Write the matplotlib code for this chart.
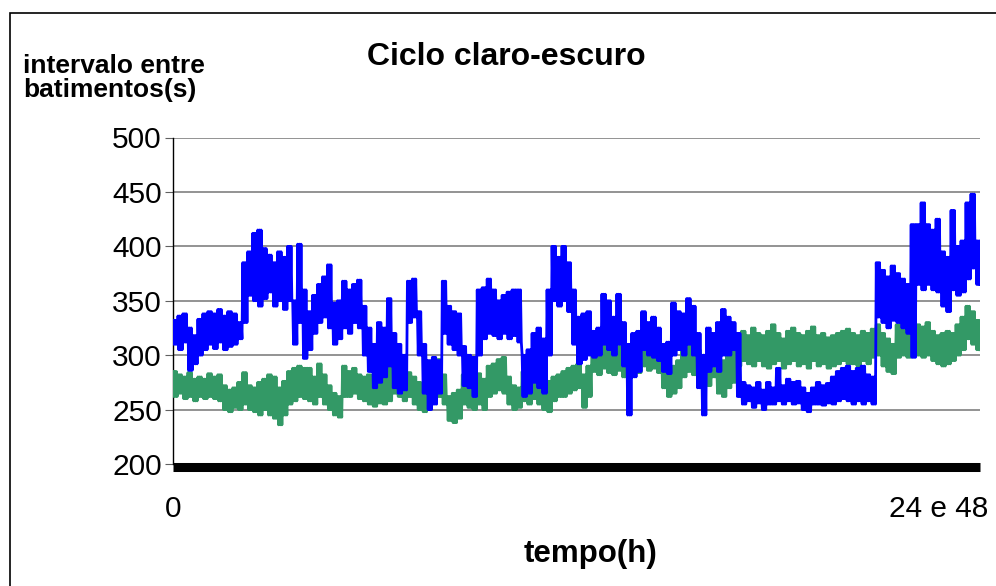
import numpy as np
import matplotlib
matplotlib.use('Agg')
import matplotlib.pyplot as plt
from matplotlib.patches import Rectangle

plt.rcParams['font.family'] = ['Liberation Sans', 'DejaVu Sans']

# envelopes (min / max por intervalo de ~5 px)
azul_min = [310, 305, 312, 286, 292, 300, 305, 310, 306, 312, 305, 308, 310, 315, 330,
            355, 350, 345, 352, 358, 345, 350, 342, 350, 310, 330, 297, 305, 320, 330,
            335, 325, 310, 315, 325, 320, 330, 325, 300, 285, 270, 275, 280, 290, 270,
            265, 268, 330, 335, 300, 265, 250, 255, 265, 320, 310, 305, 300, 272, 270,
            262, 300, 315, 320, 318, 315, 320, 315, 318, 312, 262, 265, 275, 270, 265,
            300, 350, 345, 350, 340, 310, 292, 296, 300, 298, 300, 310, 305, 300, 310,
            290, 245, 280, 285, 305, 300, 298, 295, 285, 283, 300, 305, 300, 310, 300,
            270, 245, 285, 290, 285, 300, 300, 305, 262,
            255, 258, 252, 256, 250, 255, 255, 258, 255, 258, 255, 256, 250, 248, 255,
            255, 254, 256, 255, 258, 260, 258,
            255, 258, 255, 258, 255, 335, 330, 325, 332, 330, 325, 320, 298, 365, 360,
            365, 360, 358, 345, 340, 360, 355, 358, 370, 380, 365]
azul_max = [332, 336, 338, 325, 318, 333, 338, 340, 338, 342, 336, 340, 338, 330, 385,
            395, 412, 415, 398, 392, 385, 395, 390, 400, 350, 402, 360, 340, 355, 365,
            372, 383, 348, 350, 368, 360, 365, 369, 345, 325, 310, 330, 325, 352, 320,
            310, 300, 368, 370, 340, 310, 295, 298, 295, 368, 345, 340, 338, 308, 300,
            298, 360, 362, 370, 360, 350, 355, 358, 360, 360, 300, 305, 320, 325, 315,
            360, 400, 390, 400, 385, 360, 335, 338, 340, 322, 325, 356, 350, 335, 356,
            330, 310, 320, 322, 340, 330, 335, 325, 310, 312, 348, 340, 338, 352, 345,
            320, 300, 325, 320, 330, 342, 335, 330, 320,
            275, 272, 270, 275, 268, 275, 270, 288, 272, 278, 275, 276, 270, 265, 270,
            275, 272, 274, 280, 285, 288, 290,
            285, 288, 290, 282, 280, 385, 378, 372, 382, 375, 370, 365, 420, 420, 440,
            420, 415, 425, 395, 390, 433, 400, 405, 440, 448, 405]

verde_min = [262, 265, 260, 262, 258, 262, 260, 262, 260, 258,
             250, 248, 252, 250, 255, 250, 248,
             245, 250, 245, 242, 236, 245,
             255, 258, 262, 260,
             258, 255, 262,
             255, 250, 245, 243,
             262, 262, 265, 260,
             258, 255, 253, 256, 255, 258,
             265, 262,
             258, 262, 255,
             250, 248,
             255, 258, 262, 255,
             240, 238, 242,
             255, 252, 250, 255, 250,
             262, 265, 268, 265,
             255, 250, 252,
             258, 255, 260, 255, 250, 248,
             258, 262, 262, 265, 268, 270,
             252, 262,
             285, 282, 288, 284, 282, 286, 280,
             285, 288, 284, 290, 286, 288, 284,
             270, 262, 265, 270,
             280, 285, 282, 278, 275, 272, 280,
             265, 262, 270, 275,
             290, 295, 292, 290, 295, 290, 288, 292, 295, 288, 292, 295, 290, 292, 288,
             295, 290, 292, 288, 290, 292, 295, 292,
             292, 290, 295, 292, 298,
             300,
             290, 285, 283,
             298, 300, 298, 302, 300, 298, 300,
             295, 292, 290, 292, 295,
             300, 305, 315,
             310, 305]
verde_max = [285, 282, 280, 284, 278, 280, 278, 283, 280, 282,
             272, 268, 270, 275, 284, 272, 270,
             275, 278, 282, 280, 270, 276,
             285, 288, 290, 288,
             288, 280, 292,
             282, 272, 265, 262,
             290, 285, 288, 282,
             280, 282, 278, 284, 280, 288,
             302, 295,
             282, 284, 280,
             275, 270,
             285, 290, 296, 282,
             262, 265, 268,
             282, 280, 278, 283, 278,
             290, 292, 296, 298,
             280, 272, 270,
             285, 282, 286, 280, 278, 276,
             280, 282, 285, 288, 290, 292,
             282, 290,
             308, 310, 312, 306, 310, 308, 305,
             305, 312, 310, 314, 310, 312, 308,
             296, 292, 290, 295,
             308, 312, 314, 305, 300, 305, 310,
             300, 295, 305, 308,
             320, 322, 318, 325, 320, 318, 322, 328, 320, 315, 322, 325, 320, 318, 322,
             326, 318, 320, 316, 318, 320, 322, 324,
             320, 318, 322, 320, 324,
             328,
             320, 315, 310,
             328, 332, 325, 330, 328, 326, 330,
             322, 318, 320, 322, 320,
             328, 335, 345,
             340, 332]

nivel_preto = 197
y_ticks = [200, 250, 300, 350, 400, 450, 500]
x_rotulos = ['0', '24 e 48']


def zigue_zague(lo, hi, passos=3):
    # alterna max e min dentro de cada intervalo para desenhar a faixa de ruido
    n = len(lo)
    k = 2 * passos
    xs = (np.arange(n)[:, None] + np.arange(k)[None, :] / k).ravel()
    ys = np.empty((n, k))
    ys[:, 0::2] = np.asarray(hi)[:, None]
    ys[:, 1::2] = np.asarray(lo)[:, None]
    return xs, ys.ravel()


fig = plt.figure(figsize=(9.96, 5.86), dpi=100)
ax = fig.add_axes([173 / 996, 1 - 464 / 586, 807 / 996, 326.5 / 586])

n = len(azul_min)
xv, yv = zigue_zague(verde_min, verde_max)
xa, ya = zigue_zague(azul_min, azul_max)
ax.plot(xv, yv, color='#339966', lw=2.0, zorder=3)
ax.plot(xa, ya, color='#0000ff', lw=2.0, zorder=4)
ax.plot([0, n - 0.2], [nivel_preto, nivel_preto], color='black', lw=6.5,
        solid_capstyle='butt', zorder=5, clip_on=False)

ax.set_xlim(0, n - 0.2)
ax.set_ylim(200, 500)
ax.set_yticks(y_ticks)
ax.set_yticklabels([str(v) for v in y_ticks], fontsize=21.5)
ax.yaxis.grid(True, color='#808080', lw=1.2)
ax.set_axisbelow(True)
ax.tick_params(axis='y', length=6, width=0.8, color='#606060', pad=2)

x_fim = (939 - 173) / 807 * (n - 0.2)
ax.set_xticks([0, x_fim])
ax.set_xticklabels(x_rotulos, fontsize=21.5)
ax.tick_params(axis='x', length=0, pad=22)

for s in ['top', 'right', 'bottom']:
    ax.spines[s].set_visible(False)
ax.spines['left'].set_linewidth(1.0)

fig.text(506 / 996, 1 - 57 / 586, 'Ciclo claro-escuro', fontsize=23,
         fontweight='bold', ha='center', va='center')
fig.text(23 / 996, 1 - 73 / 586, 'intervalo entre', fontsize=19,
         fontweight='bold', ha='left', va='baseline')
fig.text(23 / 996, 1 - 97 / 586, 'batimentos(s)', fontsize=19,
         fontweight='bold', ha='left', va='baseline')
fig.text(590 / 996, 1 - 562 / 586, 'tempo(h)', fontsize=22.5,
         fontweight='bold', ha='center', va='baseline')

fig.patches.append(Rectangle((10 / 996, -0.05), 1.1, 1 - 13 / 586 + 0.05,
                             transform=fig.transFigure, fill=False,
                             edgecolor='black', lw=1.2))

fig.savefig('out.png', dpi=100)
